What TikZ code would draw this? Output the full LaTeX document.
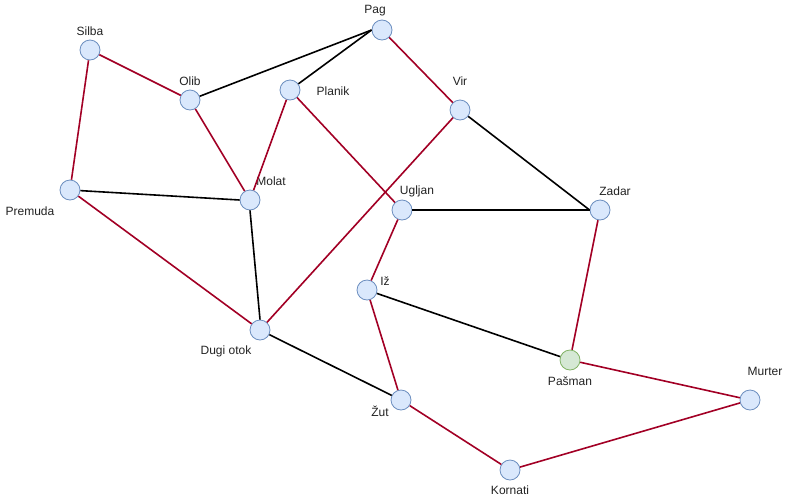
\documentclass[tikz,border=0pt]{standalone}
\usepackage{fontspec}
\setmainfont{Liberation Sans}
\begin{document}
\begin{tikzpicture}[x=1pt,y=-1pt,
  island/.style={circle,draw=nodeblue,fill=fillblue,line width=0.8pt,minimum size=20pt,inner sep=0pt},
  port/.style={island,draw=nodegreen,fill=fillgreen},
  lbl/.style={text=labelgray,font=\fontsize{12pt}{14pt}\selectfont,inner sep=0pt,anchor=center},
  redlink/.style={draw=linkred,line width=1.6pt},
  blacklink/.style={draw=black,line width=1.6pt}]
\definecolor{nodeblue}{HTML}{6C8EBF}
\definecolor{fillblue}{HTML}{DAE8FC}
\definecolor{nodegreen}{HTML}{82B366}
\definecolor{fillgreen}{HTML}{D5E8D4}
\definecolor{linkred}{HTML}{A20025}
\definecolor{labelgray}{HTML}{222222}
\useasboundingbox (0,0) rectangle (791,501);

% islands
\node[island] (pag) at (382,30) {};
\node[island] (silba) at (90,50) {};
\node[island] (olib) at (190,100) {};
\node[island] (planik) at (290,90) {};
\node[island] (vir) at (460,110) {};
\node[island] (premuda) at (70,190) {};
\node[island] (molat) at (250,200) {};
\node[island] (ugljan) at (402,210) {};
\node[island] (zadar) at (600,210) {};
\node[island] (iz) at (367,290) {};
\node[island] (dugi) at (260,330) {};
\node[port] (pasman) at (570,360) {};
\node[island] (murter) at (750,400) {};
\node[island] (zut) at (401,400) {};
\node[island] (kornati) at (510,470) {};

% names
\node[lbl] (tpag) at (375,11) {Pag};
\node[lbl] (tsilba) at (90,31) {Silba};
\node[lbl] (tolib) at (190,81) {Olib};
\node[lbl] (tplanik) at (333,91) {Planik};
\node[lbl] (tvir) at (460,81) {Vir};
\node[lbl] (tpremuda) at (30,211) {Premuda};
\node[lbl] (tmolat) at (271,181) {Molat};
\node[lbl] (tugljan) at (417,191) {Ugljan};
\node[lbl] (tzadar) at (615,191) {Zadar};
\node[lbl] (tiz) at (385,281) {Iž};
\node[lbl] (tdugi) at (226,351) {Dugi otok};
\node[lbl] (tpasman) at (570,381) {Pašman};
\node[lbl] (tmurter) at (765,371) {Murter};
\node[lbl] (tzut) at (380,411) {Žut};
\node[lbl] (tkornati) at (510,490) {Kornati};

% red links
\begin{scope}[on background layer/.try]
\draw[redlink] (silba) -- (olib);
\draw[redlink] (silba) -- (premuda);
\draw[redlink] (olib) -- (molat);
\draw[redlink] (planik) -- (molat);
\draw[redlink] (planik) -- (ugljan);
\draw[redlink] (pag) -- (vir);
\draw[redlink] (vir) -- (dugi);
\draw[redlink] (premuda) -- (dugi);
\draw[redlink] (ugljan) -- (iz);
\draw[redlink] (iz) -- (zut);
\draw[redlink] (zadar) -- (pasman);
\draw[redlink] (pasman) -- (murter);
\draw[redlink] (zut) -- (kornati);
\draw[redlink] (kornati) -- (murter);

% black links
\draw[blacklink] (olib) -- (pag.west);
\draw[blacklink] (planik) -- (pag.west);
\draw[blacklink] (vir) -- (zadar.west);
\draw[blacklink] (ugljan) -- (zadar.west);
\draw[blacklink] (premuda) -- (molat.west);
\draw[blacklink] (molat.south) -- (dugi.north);
\draw[blacklink] (iz) -- (pasman);
\draw[blacklink] (dugi) -- (zut);
\end{scope}
\end{tikzpicture}
\end{document}
